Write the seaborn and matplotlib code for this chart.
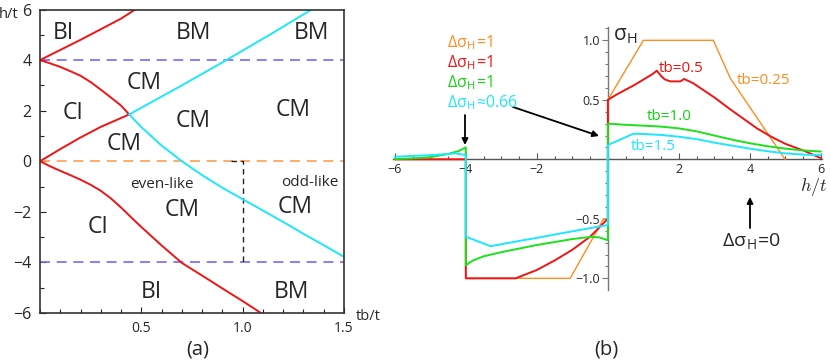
import matplotlib
matplotlib.use("Agg")
import matplotlib.pyplot as plt
from matplotlib.ticker import MultipleLocator, FixedLocator
import seaborn as sns

# ---------------- panel (a): phase diagram h/t vs tb/t ----------------
bi_top_tb = [0, 0.1, 0.2, 0.3, 0.4, 0.47]
bi_top_h = [4, 4.4, 4.8, 5.22, 5.64, 6.0]

ci_up_tb = [0, 0.05, 0.1, 0.15, 0.2, 0.25, 0.3, 0.35, 0.4, 0.44]
ci_up_h = [4, 3.87, 3.73, 3.56, 3.38, 3.13, 2.83, 2.52, 2.2, 1.85]

ci_mid_tb = [0, 0.1, 0.2, 0.3, 0.44]
ci_mid_h = [0, 0.48, 0.94, 1.36, 1.85]

ci_low_tb = [0, 0.05, 0.1, 0.15, 0.2, 0.25, 0.3, 0.35, 0.4, 0.45, 0.5, 0.6, 0.7, 0.8, 0.9, 1.0, 1.09]
ci_low_h = [0, -0.2, -0.38, -0.55, -0.73, -0.93, -1.17, -1.47, -1.83, -2.22, -2.6, -3.33, -4.02, -4.52, -5.03, -5.53, -6.0]

cm_up_tb = [0.44, 0.7, 0.92, 1.15, 1.34]
cm_up_h = [1.85, 3.0, 4.0, 5.08, 6.0]

cm_low_tb = [0.44, 0.5, 0.6, 0.7, 0.8, 0.9, 1.0, 1.1, 1.2, 1.3, 1.4, 1.5]
cm_low_h = [1.85, 1.35, 0.62, 0.0, -0.55, -1.05, -1.5, -1.95, -2.4, -2.87, -3.32, -3.78]

region_labels = ["BI", "BM", "BM", "CM", "CI", "CM", "CM", "CM", "CM", "CM", "CI", "BI", "BM"]
region_tb = [0.115, 0.756, 1.34, 0.513, 0.164, 0.756, 1.25, 0.416, 0.70, 1.26, 0.285, 0.55, 1.24]
region_h = [5.08, 5.08, 5.08, 3.1, 1.91, 1.58, 2.04, 0.69, -1.92, -1.79, -2.58, -5.16, -5.16]

# ---------------- panel (b): sigma_H vs h/t ----------------
h_025 = [-6, -4, -4, -1.06, -0.12, 0, 0, 1.0, 2.97, 3.45, 4.99]
s_025 = [0, 0, -1, -1, -0.5, -0.5, 0.5, 1.0, 1.0, 0.68, 0.0]

h_05 = [-6, -4, -4, -2.6, -2.0, -1.5, -1.0, -0.5, 0, 0, 0.25, 0.5, 0.75, 1.0, 1.25, 1.38,
        1.5, 1.6, 1.76, 2.04, 2.15, 2.4, 2.7, 3.0, 3.4, 3.8, 4.2, 4.6, 5.0, 5.5, 6.0]
s_05 = [0, 0, -1, -1, -0.93, -0.85, -0.76, -0.65, -0.5, 0.5, 0.545, 0.585, 0.625, 0.67, 0.715, 0.745,
        0.7, 0.672, 0.655, 0.655, 0.675, 0.64, 0.58, 0.52, 0.43, 0.345, 0.26, 0.19, 0.13, 0.075, 0.01]

h_10 = [-6, -5.5, -5.0, -4.5, -4.2, -4, -4, -3.8, -3.5, -3.0, -2.5, -2.0, -1.5, -1.0, -0.5, -0.25, 0,
        0, 0.5, 1.0, 1.5, 2.0, 2.5, 3.0, 3.5, 4.0, 4.5, 5.0, 5.5, 6.0]
s_10 = [0.003, 0.008, 0.018, 0.045, 0.07, 0.1, -0.89, -0.85, -0.815, -0.78, -0.75, -0.72, -0.695, -0.67, -0.652, -0.655, -0.68,
        0.3, 0.29, 0.283, 0.275, 0.26, 0.235, 0.2, 0.165, 0.135, 0.11, 0.09, 0.075, 0.065]

h_15 = [-6, -5.0, -4.5, -4.3, -4, -4, -3.3, -2.5, -2.0, -1.5, -1.0, -0.5, 0,
        0, 0.72, 1.0, 1.5, 2.0, 2.5, 3.0, 3.5, 4.0, 4.5, 5.0, 5.5, 6.0]
s_15 = [0.022, 0.035, 0.045, 0.05, 0.036, -0.65, -0.73, -0.686, -0.66, -0.632, -0.605, -0.578, -0.552,
        0.12, 0.215, 0.213, 0.205, 0.19, 0.17, 0.14, 0.115, 0.09, 0.068, 0.05, 0.04, 0.035]

c_or = "#ff8c1e"
c_red = "#f01414"
c_grn = "#1ee01e"
c_cy = "#1ee6ff"
c_pur = "#7d64ff"

sns.set_style("white")
plt.rcParams["font.family"] = ["Open Sans", "DejaVu Sans"]
plt.rcParams["mathtext.fontset"] = "cm"

fig = plt.figure(figsize=(8.3, 3.63), dpi=100)
W, H = 830, 363


def px(x, y):
    return x / W, 1 - y / H


# ---- (a)
ax = fig.add_axes([40 / W, 50 / H, 304 / W, 303.5 / H])
ax.axhline(4, color=c_pur, lw=1.2, ls=(0, (6, 4)))
ax.axhline(-4, color=c_pur, lw=1.2, ls=(0, (6, 4)))
ax.axhline(0, color="#ffa050", lw=1.2, ls=(0, (6, 4)))
ax.plot([0.94, 1.0, 1.0], [0, 0, -4], color="#222222", lw=1.0, ls=(0, (4, 3)))
for xx, yy in [(bi_top_tb, bi_top_h), (ci_up_tb, ci_up_h), (ci_mid_tb, ci_mid_h), (ci_low_tb, ci_low_h)]:
    sns.lineplot(x=xx, y=yy, sort=False, estimator=None, color=c_red, lw=1.4, ax=ax)
for xx, yy in [(cm_up_tb, cm_up_h), (cm_low_tb, cm_low_h)]:
    sns.lineplot(x=xx, y=yy, sort=False, estimator=None, color=c_cy, lw=1.4, ax=ax)
for lab, xx, yy in zip(region_labels, region_tb, region_h):
    ax.text(xx, yy, lab, fontsize=16.5, ha="center", va="center")
ax.text(0.60, -0.90, "even-like", fontsize=11, ha="center", va="center")
ax.text(1.33, -0.84, "odd-like", fontsize=11, ha="center", va="center")
ax.set_xlim(0, 1.5)
ax.set_ylim(-6, 6)
ax.xaxis.set_major_locator(FixedLocator([0.5, 1.0, 1.5]))
ax.set_xticklabels(["0.5", "1.0", "1.5"])
ax.xaxis.set_minor_locator(MultipleLocator(0.1))
ax.yaxis.set_major_locator(FixedLocator([-6, -4, -2, 0, 2, 4, 6]))
ax.set_yticklabels(["\u22126", "\u22124", "\u22122", "0", "2", "4", "6"])
ax.yaxis.set_minor_locator(MultipleLocator(1))
ax.tick_params(which="both", direction="in", color="#222222", left=True, bottom=True)
ax.tick_params(which="major", length=4, width=0.8)
ax.tick_params(which="minor", length=3, width=0.8)
ax.tick_params(axis="x", labelsize=10, pad=6)
ax.tick_params(axis="y", labelsize=11.5, pad=6)
for sp in ax.spines.values():
    sp.set_color("#333333")
    sp.set_linewidth(1.2)
ax.set_xlabel("")
ax.set_ylabel("")
fig.text(*px(9, 15), "h/t", fontsize=10.5, ha="center", va="center")
fig.text(*px(356, 316), "tb/t", fontsize=10.5, ha="left", va="center")
fig.text(*px(198, 350), "(a)", fontsize=14.5, ha="center", va="center")

# ---- (b)
bx = fig.add_axes([393 / W, 73 / H, 429 / W, 263 / H])
sns.lineplot(x=h_025, y=s_025, sort=False, estimator=None, color=c_or, lw=1.0, ax=bx)
sns.lineplot(x=h_05, y=s_05, sort=False, estimator=None, color=c_red, lw=1.4, ax=bx)
sns.lineplot(x=h_10, y=s_10, sort=False, estimator=None, color=c_grn, lw=1.4, ax=bx)
sns.lineplot(x=h_15, y=s_15, sort=False, estimator=None, color=c_cy, lw=1.4, ax=bx)
bx.set_xlim(-6.05, 6.03)
bx.set_ylim(-1.098, 1.112)
bx.spines["left"].set_position(("data", 0))
bx.spines["bottom"].set_position(("data", 0))
bx.spines["top"].set_visible(False)
bx.spines["right"].set_visible(False)
bx.spines["left"].set_color("#777777")
bx.spines["bottom"].set_color("#555555")
for sp in ("left", "bottom"):
    bx.spines[sp].set_linewidth(1.0)
    bx.spines[sp].set_zorder(0.5)
bx.xaxis.set_major_locator(FixedLocator([-6, -4, -2, 2, 4, 6]))
bx.set_xticklabels(["\u22126", "\u22124", "\u22122", "2", "4", "6"])
bx.xaxis.set_minor_locator(MultipleLocator(0.5))
bx.yaxis.set_major_locator(FixedLocator([-1.0, -0.5, 0.5, 1.0]))
bx.set_yticklabels(["\u22121.0", "\u22120.5", "0.5", "1.0"])
bx.yaxis.set_minor_locator(MultipleLocator(0.1))
bx.tick_params(axis="x", which="both", direction="in", color="#555555", bottom=True, labelsize=9, pad=3)
bx.tick_params(axis="y", which="both", direction="out", color="#777777", left=True, labelsize=9, pad=1.5)
bx.tick_params(which="major", length=4, width=0.8)
bx.tick_params(which="minor", length=2.5, width=0.8)
bx.set_xlabel("")
bx.set_ylabel("")

fig.text(*px(613, 36), "\u03c3$_\\mathregular{H}$", fontsize=15, ha="left", va="center")
fig.text(*px(659, 68), "tb=0.5", fontsize=11, color=c_red, ha="left", va="center")
fig.text(*px(737, 81), "tb=0.25", fontsize=11, color=c_or, ha="left", va="center")
fig.text(*px(647, 117), "tb=1.0", fontsize=11, color="#14d214", ha="left", va="center")
fig.text(*px(631, 147), "tb=1.5", fontsize=11, color=c_cy, ha="left", va="center")
fig.text(*px(814, 187), r"$h/t$", fontsize=13, ha="center", va="center")

delta_txt = ["\u0394\u03c3$_\\mathregular{H}$=1", "\u0394\u03c3$_\\mathregular{H}$=1",
             "\u0394\u03c3$_\\mathregular{H}$=1", "\u0394\u03c3$_\\mathregular{H}$\u22480.66"]
delta_col = [c_or, c_red, "#14d214", c_cy]
delta_y = [43, 63, 83, 103]
for t, c, yy in zip(delta_txt, delta_col, delta_y):
    fig.text(*px(447, yy), t, fontsize=11.5, color=c, ha="left", va="center")

arrow = dict(arrowstyle="-|>", color="black", lw=1.3, mutation_scale=9, shrinkA=0, shrinkB=0)
fig.add_artist(matplotlib.patches.FancyArrowPatch(px(465, 115), px(465, 145), transform=fig.transFigure, **arrow))
fig.add_artist(matplotlib.patches.FancyArrowPatch(px(513, 107), px(599, 136), transform=fig.transFigure, **arrow))
fig.add_artist(matplotlib.patches.FancyArrowPatch(px(750, 228), px(750, 197), transform=fig.transFigure, **arrow))
fig.text(*px(751, 242), "\u0394\u03c3$_\\mathregular{H}$=0", fontsize=14, ha="center", va="center")
fig.text(*px(606, 350), "(b)", fontsize=14.5, ha="center", va="center")

fig.savefig("out.png", dpi=100)
